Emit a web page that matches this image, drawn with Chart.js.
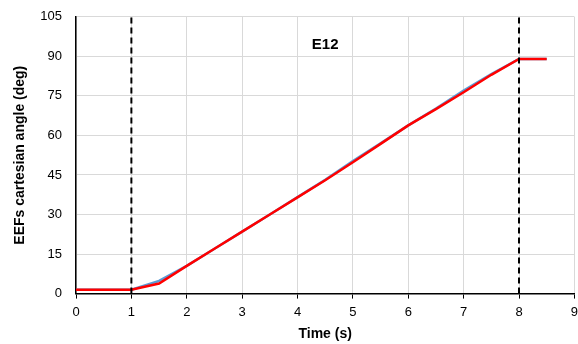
<!DOCTYPE html>
<html>
<head>
<meta charset="utf-8">
<script src="https://cdn.jsdelivr.net/npm/chart.js@4.4.1/dist/chart.umd.min.js"></script>
<style>
  html, body { margin: 0; padding: 0; background: #fff; overflow: hidden; }
  #wrap { width: 578px; height: 344px; position: relative; overflow: hidden; }
  #c { position: absolute; left: 0; top: -5px; }
</style>
</head>
<body>
<div id="wrap"><canvas id="c" width="584" height="349"></canvas></div>
<script>
// Time samples (s) and end-effector cartesian angle (deg)
const timeS = [0, 1, 1.5, 2, 2.5, 3, 3.5, 4, 4.5, 5, 5.5, 6, 6.5, 7, 7.5, 8, 8.5];
const referenceAngle = [1.5, 1.5, 4.8, 10.5, 17, 23.5, 30, 36.6, 43.2, 50.3, 57, 63.8, 70.2, 77, 83.3, 89, 89];
const measuredAngle = [1.5, 1.5, 3.8, 10.5, 17, 23.5, 30, 36.5, 43, 49.8, 56.8, 63.8, 70, 76.4, 83, 89, 89];
// Phase boundaries (s)
const phaseMarks = [1, 8];
const xTicks = [0, 1, 2, 3, 4, 5, 6, 7, 8, 9];
const yTicks = [0, 15, 30, 45, 60, 75, 90, 105];
const chartLabel = 'E12';

const toPts = (xs, ys) => xs.map((x, i) => ({ x: x, y: ys[i] }));

const markDatasets = phaseMarks.map(t => ({
  data: [{ x: t, y: 0 }, { x: t, y: 105 }],
  borderColor: '#000',
  borderWidth: 2,
  borderDash: [6, 4],
  pointRadius: 0,
  showLine: true,
  order: 0
}));

const labelPlugin = {
  id: 'labelPlugin',
  afterDatasetsDraw(chart) {
    const { ctx, scales } = chart;
    ctx.save();
    ctx.font = 'bold 15px "Liberation Sans", Arial, sans-serif';
    ctx.fillStyle = '#000';
    ctx.textAlign = 'center';
    ctx.textBaseline = 'middle';
    ctx.fillText(chartLabel, scales.x.getPixelForValue(4.5), scales.y.getPixelForValue(94.5));
    ctx.restore();
  }
};

const FONT = '"Liberation Sans", Arial, sans-serif';

new Chart(document.getElementById('c'), {
  type: 'scatter',
  data: {
    datasets: [
      {
        data: toPts(timeS, referenceAngle),
        borderColor: '#5b9bd5',
        borderWidth: 2.5,
        pointRadius: 0,
        showLine: true,
        order: 2
      },
      {
        data: toPts(timeS, measuredAngle),
        borderColor: '#ff0000',
        borderWidth: 2.5,
        pointRadius: 0,
        showLine: true,
        order: 1
      },
      ...markDatasets
    ]
  },
  options: {
    responsive: false,
    animation: false,
    layout: { padding: { left: 12, right: 0, top: 0, bottom: 1 } },
    plugins: { legend: { display: false }, tooltip: { enabled: false } },
    scales: {
      x: {
        type: 'linear',
        min: 0, max: 9,
        afterBuildTicks(s) { s.ticks = xTicks.map(v => ({ value: v })); },
        grid: { color: '#d9d9d9', lineWidth: 1, drawTicks: true, tickLength: 5, tickColor: '#000' },
        border: { color: '#000', width: 1.5 },
        ticks: { color: '#000', font: { family: FONT, size: 13 }, padding: 6 },
        title: { display: true, text: 'Time (s)', color: '#000', font: { family: FONT, size: 14, weight: 'bold' }, padding: { top: 0, bottom: 0 } }
      },
      y: {
        type: 'linear',
        min: 0, max: 105,
        afterBuildTicks(s) { s.ticks = yTicks.map(v => ({ value: v })); },
        afterFit(s) { s.width = 64; },
        grid: { color: '#d9d9d9', lineWidth: 1, drawTicks: false },
        border: { color: '#000', width: 1.5 },
        ticks: { color: '#000', font: { family: FONT, size: 13 }, padding: 14 },
        title: { display: true, text: 'EEFs cartesian angle (deg)', color: '#000', font: { family: FONT, size: 14, weight: 'bold' }, padding: { top: 0, bottom: 4 } }
      }
    }
  },
  plugins: [labelPlugin]
});
</script>
</body>
</html>
